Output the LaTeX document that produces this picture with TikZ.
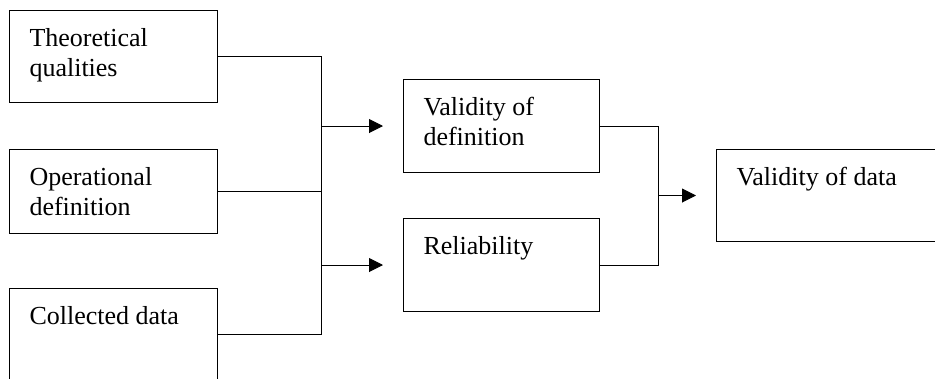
\documentclass[tikz,border=0pt]{standalone}
\usepackage{fontspec}
\setmainfont{Liberation Serif}
\usetikzlibrary{arrows.meta}
\newcommand{\boxfont}{\fontsize{26}{30}\selectfont}
% text set at the top left of a box of given width and height
\newcommand{\boxtext}[3]{\vbox to #2{\hsize=#1\leftskip=20pt\parindent=0pt\vskip15pt\strut#3\par\vfil}}
\tikzset{
  box/.style={draw,line width=1pt,inner sep=0pt,anchor=north west,font=\boxfont},
  ln/.style={draw,line width=1pt},
  ar/.style={ln,-{Triangle[length=14pt,width=14pt]},shorten >=20pt},
}

\begin{document}
\begin{tikzpicture}[x=1pt,y=-1pt]
  \useasboundingbox (0,0) rectangle (935,378);
  \clip (0,0) rectangle (935,378);
  % inputs
  \node[box] (theo) at (9,10) {\boxtext{208pt}{92pt}{Theoretical\newline qualities}};
  \node[box] (oper) at (9,149) {\boxtext{208pt}{84pt}{Operational\newline definition}};
  \node[box] (coll) at (9,288) {\boxtext{208pt}{92pt}{Collected data}};
  % middle
  \node[box] (vdef) at (403,79) {\boxtext{196pt}{93pt}{Validity of\newline definition}};
  \node[box] (reli) at (403,218) {\boxtext{196pt}{93pt}{Reliability}};
  % result
  \node[box] (vdat) at (716,149) {\boxtext{240pt}{92pt}{Validity of data}};
  \coordinate (busl) at (321,0);
  \coordinate (busr) at (658,0);
  \draw[ln] (theo.east) -| (busl |- coll.east) -- (coll.east);
  \draw[ln] (oper.east) -- (busl |- oper.east);
  \draw[ar] (busl |- vdef.west) -- (vdef.west);
  \draw[ar] (busl |- reli.west) -- (reli.west);
  \draw[ln] (vdef.east) -| (busr |- reli.east) -- (reli.east);
  \draw[ar] (busr |- vdat.west) -- (vdat.west);
\end{tikzpicture}
\end{document}
